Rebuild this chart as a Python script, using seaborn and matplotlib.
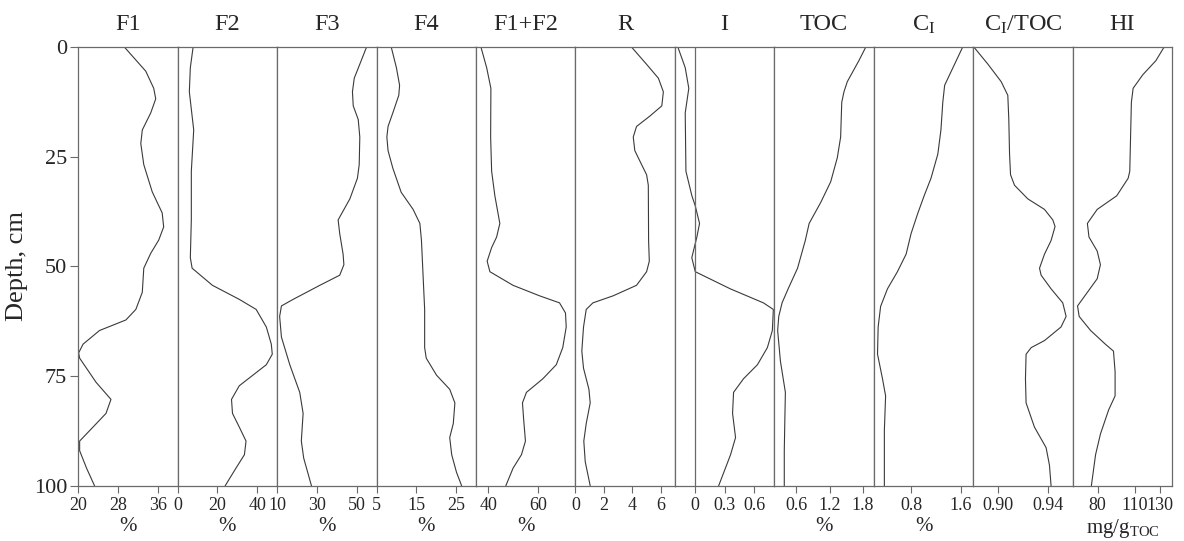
import numpy as np
import pandas as pd
import matplotlib
matplotlib.use('Agg')
import matplotlib.pyplot as plt
import seaborn as sns

# depth readings (cm) and values for each column
depth_f1 = [0, 5.5, 9.4, 11.8, 15, 18.9, 22, 26.8, 33, 37.8, 41, 44, 47, 50.4, 55.9, 59.8,
            62.2, 64.6, 67.7, 69.7, 70.9, 76.4, 80.3, 83.5, 86.6, 89.8, 92, 96, 100]
f1 = [29.3, 33.6, 35.2, 35.6, 34.6, 32.9, 32.6, 33.2, 34.9, 36.9, 37.2, 36.2, 34.6, 33.2, 32.9, 31.6,
      29.6, 24.3, 21.0, 20.1, 20.3, 23.6, 26.6, 25.6, 23.0, 20.3, 20.3, 21.7, 23.3]

depth_f2 = [0, 4.7, 10.2, 18.9, 28.3, 39.4, 48, 50.4, 54.3, 57.5, 59.8, 63.8, 67.7, 70,
            72.4, 74.8, 77.2, 80.3, 83.5, 86.6, 89.8, 92.9, 96, 100]
f2 = [7.8, 6.4, 5.9, 8.1, 6.9, 6.9, 6.4, 7.3, 17.5, 31.0, 39.5, 44.6, 47.1, 47.6,
      44.6, 37.8, 31.0, 27.1, 27.6, 31.0, 34.4, 33.6, 29.3, 23.9]

depth_f3 = [0, 3.9, 7.1, 10.2, 13.4, 16.5, 20.5, 26.8, 29.9, 34.6, 39.4, 42.5, 47.2, 49.6,
            52, 54.3, 57.5, 59, 61.4, 66.1, 72.4, 78.7, 83.5, 89.8, 93.7, 100]
f3 = [55.0, 51.6, 48.8, 47.9, 48.3, 50.8, 51.6, 51.3, 50.4, 46.6, 40.7, 41.5, 43.2, 43.6,
      41.5, 31.5, 18.1, 12.2, 11.3, 12.2, 16.4, 21.4, 23.1, 22.2, 23.4, 27.3]

depth_f4 = [0, 4.7, 8.7, 11, 15, 18.1, 20.5, 23.6, 27.6, 33.1, 37, 40.2, 44.1, 52, 59.8,
            68.5, 70.9, 74.8, 78, 81.1, 85.8, 89, 92.9, 96.9, 100]
f4 = [8.7, 10.0, 10.8, 10.6, 9.1, 7.9, 7.6, 7.9, 9.1, 11.2, 14.2, 15.9, 16.3, 16.7, 17.1,
      17.1, 17.5, 20.1, 23.4, 24.7, 24.3, 23.4, 23.9, 25.1, 26.4]

depth_f12 = [0, 4.7, 9.4, 20.5, 28.3, 33.9, 40.2, 43.3, 45.7, 48.8, 51.2, 54.3, 56.7, 58.3,
             60.6, 63.8, 68.5, 72.4, 75.6, 78.7, 81.1, 85, 89.8, 92.9, 96, 100]
f12 = [37.0, 39.3, 41.0, 40.9, 41.3, 42.6, 44.6, 43.3, 41.3, 39.5, 40.6, 49.9, 60.6, 68.6,
       71.0, 71.3, 69.9, 67.3, 61.9, 55.3, 53.7, 54.2, 54.9, 53.3, 49.9, 47.0]

depth_r = [0, 3.9, 7.1, 10.2, 13.4, 15.7, 18.1, 20.5, 23.6, 26.8, 29.1, 31.5, 44.1, 48.8,
           51.2, 54.3, 56.7, 58.3, 59.8, 63.8, 69.3, 73.2, 78, 81.1, 85.8, 89.8, 94.5, 100]
r = [3.95, 5.0, 5.84, 6.19, 6.08, 5.25, 4.3, 4.07, 4.18, 4.66, 5.01, 5.13, 5.15, 5.2,
     5.01, 4.3, 2.65, 1.23, 0.76, 0.57, 0.45, 0.57, 0.95, 1.04, 0.76, 0.59, 0.69, 1.04]

depth_i = [0, 4.7, 9.4, 15, 28.3, 33.9, 36.2, 40.2, 43.3, 48, 51.2, 55.1, 58.3, 59.8,
           64.6, 68.5, 72.4, 75.6, 78.7, 83.5, 89, 92.9, 100]
idx_i = [-0.17, -0.096, -0.06, -0.096, -0.089, -0.029, 0.005, 0.048, 0.021, -0.03, 0.005, 0.357,
         0.69, 0.79, 0.78, 0.73, 0.63, 0.49, 0.39, 0.38, 0.41, 0.36, 0.24]

depth_toc = [0, 3.1, 7.9, 10.2, 12.6, 20.5, 25.2, 30.7, 35.4, 40.2, 44.1, 50.4, 55.1, 58.3,
             61.4, 64.6, 71.6, 78.7, 85, 92, 100]
toc = [1.855, 1.73, 1.52, 1.46, 1.42, 1.40, 1.34, 1.22, 1.04, 0.83, 0.76, 0.62, 0.45, 0.34,
       0.28, 0.26, 0.31, 0.40, 0.39, 0.38, 0.38]

depth_ci = [0, 3.9, 8.7, 12.6, 18.9, 24.4, 29.9, 33.9, 37.8, 42.5, 47.2, 51.2, 55.1, 59.1,
            63.8, 70, 75.6, 79.5, 87.4, 100]
ci = [1.63, 1.50, 1.34, 1.31, 1.28, 1.23, 1.12, 1.01, 0.91, 0.80, 0.72, 0.58, 0.42, 0.31,
      0.27, 0.26, 0.34, 0.39, 0.37, 0.37]

depth_ci_toc = [0, 3.9, 7.9, 11, 16.5, 24.4, 29.1, 31.5, 34.6, 37, 39.4, 40.9, 44.1, 47.2,
                50.4, 52, 55.1, 58.3, 61.4, 63.8, 66.9, 68.5, 70, 75.6, 81.1, 86.6, 91.3, 95.3, 100]
ci_toc = [0.8805, 0.8918, 0.9025, 0.9078, 0.9086, 0.9092, 0.910, 0.9132, 0.9239, 0.9373, 0.944,
          0.9458, 0.9426, 0.9373, 0.9333, 0.9346, 0.9426, 0.952, 0.9547, 0.9506, 0.9373, 0.9266,
          0.9225, 0.922, 0.9225, 0.9292, 0.9386, 0.9413, 0.9426]

depth_hi = [0, 3.1, 6.3, 9.4, 12.6, 28.3, 29.9, 33.9, 37, 40.2, 43.3, 46.5, 49.6, 52.8, 55.9,
            59, 61.4, 64.6, 67.7, 69.3, 74, 79.5, 82.7, 88.2, 92.9, 100]
hi = [133.5, 126.9, 116.4, 108.6, 107.2, 105.9, 104.6, 95.4, 79.7, 71.8, 73.1, 79.7, 82.3, 79.7,
      71.8, 63.9, 65.2, 74.4, 86.2, 92.8, 94.1, 94.1, 88.9, 82.3, 78.4, 75.0]

titles = ['F1', 'F2', 'F3', 'F4', 'F1+F2', 'R', 'I', 'TOC',
          r'C$_\mathrm{I}$', r'C$_\mathrm{I}$/TOC', 'HI']
units = ['%', '%', '%', '%', '%', '', '', '%', '%', '', r'mg/g$_\mathrm{TOC}$']
xlims = [(20, 40), (0, 50), (10, 60), (5, 30), (35, 75), (0, 7), (-0.2, 0.8),
         (0.2, 2.0), (0.2, 1.8), (0.88, 0.96), (60, 140)]
tick_vals = [[20, 28, 36], [0, 20, 40], [10, 30, 50], [5, 15, 25], [40, 60], [0, 2, 4, 6],
             [0, 0.3, 0.6], [0.6, 1.2, 1.8], [0.8, 1.6], [0.90, 0.94], [80, 110, 130]]
tick_text = [['20', '28', '36'], ['0', '20', '40'], ['10', '30', '50'], ['5', '15', '25'],
             ['40', '60'], ['0', '2', '4', '6'], ['0', '0.3', '0.6'], ['0.6', '1.2', '1.8'],
             ['0.8', '1.6'], ['0.90', '0.94'], ['80', '110', '130']]
depth_ticks = [0, 25, 50, 75, 100]

series = [(depth_f1, f1), (depth_f2, f2), (depth_f3, f3), (depth_f4, f4), (depth_f12, f12),
          (depth_r, r), (depth_i, idx_i), (depth_toc, toc), (depth_ci, ci),
          (depth_ci_toc, ci_toc), (depth_hi, hi)]

sns.set_style('ticks')
plt.rcParams['font.family'] = ['Liberation Serif', 'DejaVu Serif']
plt.rcParams['mathtext.fontset'] = 'custom'
plt.rcParams['mathtext.rm'] = 'Liberation Serif'
plt.rcParams['mathtext.it'] = 'Liberation Serif:italic'

frame = '#6a6a6a'
curve = '#3a3a3a'

fig, axes = plt.subplots(1, 11, figsize=(11.84, 5.41), dpi=100, sharey=True)
fig.subplots_adjust(left=0.066, right=0.990, top=0.913, bottom=0.102, wspace=0)

for k, ax in enumerate(axes):
    d, v = series[k]
    df = pd.DataFrame({'value': v, 'depth': d})
    sns.lineplot(data=df, x='value', y='depth', ax=ax, orient='y', sort=False,
                 estimator=None, color=curve, linewidth=0.8)
    if titles[k] == 'I':
        ax.axvline(0, color=frame, linewidth=0.9)
    ax.set_xlim(*xlims[k])
    ax.set_xticks(tick_vals[k])
    ax.set_xticklabels(tick_text[k])
    ax.set_title(titles[k], fontsize=17.5, pad=12)
    ax.set_xlabel(units[k], fontsize=15, labelpad=2)
    ax.tick_params(axis='x', direction='out', length=5, width=0.8, color=frame,
                   labelsize=13, pad=3)
    for sp in ax.spines.values():
        sp.set_color(frame)
        sp.set_linewidth(0.9)
    if k == 0:
        ax.set_ylabel('Depth, cm', fontsize=19, labelpad=4)
        ax.tick_params(axis='y', direction='out', length=6, width=0.8, color=frame,
                       labelsize=16, pad=2)
    else:
        ax.set_ylabel('')
        ax.tick_params(axis='y', left=False, labelleft=False)

axes[0].set_ylim(100, 0)
axes[0].set_yticks(depth_ticks)

plt.savefig('out.png', dpi=100)
